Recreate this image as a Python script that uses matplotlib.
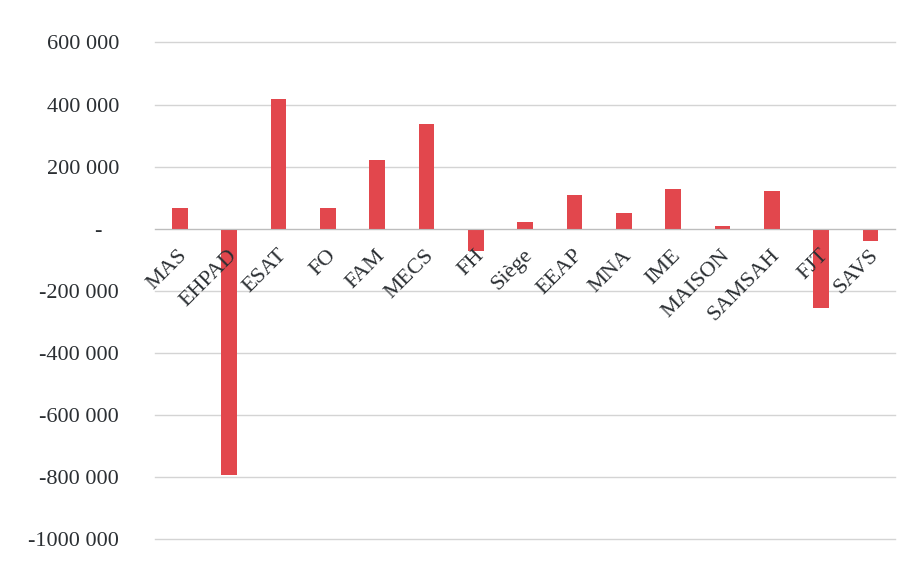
import matplotlib.pyplot as plt
import matplotlib.transforms as mtransforms
import numpy as np

# Résultats par type d'établissement (lecture approximative du graphique)
categories = ['MAS', 'EHPAD', 'ESAT', 'FO', 'FAM', 'MECS', 'FH', 'Siège',
              'EEAP', 'MNA', 'IME', 'MAISON', 'SAMSAH', 'FJT', 'SAVS']
values = [65000, -795000, 418000, 67000, 222000, 338000, -72000, 22000,
          109000, 51000, 129000, 9000, 122000, -255000, -39000]

yticks = [600000, 400000, 200000, 0, -200000, -400000, -600000, -800000, -1000000]
ytick_labels = ['600 000', '400 000', '200 000', '-   ', '-200 000', '-400 000',
                '-600 000', '-800 000', '-1000 000']

plt.rcParams['font.family'] = ['Liberation Serif', 'DejaVu Serif']

fig = plt.figure(figsize=(9.07, 5.63), dpi=100)
ax = fig.add_axes([0.171, 0.0426, 0.816, 0.882])
ax.set_axisbelow(True)

x = np.arange(len(categories))
ax.bar(x, values, width=0.32, color='#E2474D', zorder=3)

ax.set_xlim(-0.5, len(categories) - 0.5)
ax.set_ylim(-1000000, 600000)
ax.set_yticks(yticks)
ax.set_yticklabels(ytick_labels, fontsize=16, color='#2b2f33')
ax.tick_params(axis='y', length=0, pad=26)

ax.grid(axis='y', color='#d4d4d4', linewidth=1.0)
for line in ax.get_ygridlines():
    line.set_clip_on(False)
for s in ['top', 'right', 'left']:
    ax.spines[s].set_visible(False)
ax.spines['bottom'].set_position(('data', 0))
ax.spines['bottom'].set_color('#bdbdbd')
ax.spines['bottom'].set_zorder(4)

# category labels: rotated, hanging below the zero line, drawn over the bars
ax.set_xticks([])
offset = mtransforms.ScaledTranslation(0.05, -0.24, fig.dpi_scale_trans)
for xi, name in zip(x, categories):
    ax.text(xi, 0, name, transform=ax.transData + offset, fontsize=16,
            color='#2b2f33', rotation=45, ha='right', va='center',
            rotation_mode='anchor', zorder=5)

fig.savefig('out.png', dpi=100)
